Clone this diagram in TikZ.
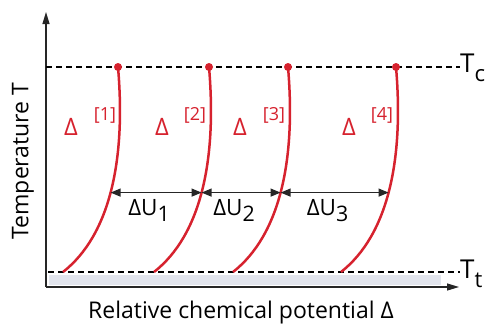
\documentclass[tikz,border=0pt]{standalone}
\usepackage{fontspec}
\setmainfont{Open Sans}
\usetikzlibrary{arrows.meta}
\definecolor{curvered}{RGB}{214,34,46}
\definecolor{bandgray}{RGB}{226,229,237}
\newcommand{\lowsub}[3]{\raisebox{-#1}{\scalebox{#2}{#3}}}

\begin{document}
\begin{tikzpicture}[x=1pt,y=-1pt,
axis/.style={-{Triangle[length=12pt,width=7pt]},line width=1.2pt,draw=black!85},
level/.style={line width=1.4pt,dash pattern=on 6pt off 4pt},
boundary/.style={line width=2.5pt,draw=curvered},
dot/.style={circle,fill=curvered,inner sep=0pt,minimum size=8pt},
gap/.style={{Triangle[length=10pt,width=8pt]}-{Triangle[length=10pt,width=8pt]},line width=1.2pt,draw=black!85},
phaselabel/.style={text=curvered,font=\fontsize{24}{24}\selectfont},
tag/.style={text=curvered,font=\fontsize{18}{18}\selectfont},
gaplabel/.style={font=\fontsize{22.5}{22.5}\selectfont},
levellabel/.style={font=\fontsize{26}{26}\selectfont,anchor=base west,inner sep=0pt},
axislabel/.style={font=\fontsize{23}{23}\selectfont}]
\useasboundingbox (0,0) rectangle (486,327);
% substrate band and axes
\fill[bandgray] (49,275) rectangle (441,285);
\coordinate (origin) at (46,287);
\coordinate (ytip) at (46,12);
\coordinate (xtip) at (459,287);
\draw[axis] (origin) -- (ytip);
\draw[axis] (origin) -- (xtip);
\node[axislabel,rotate=90] (ylab) at (23,161) {Temperature T};
\node[axislabel] (xlab) at (241,313) {Relative chemical potential Δ};
% critical and transition levels
\node[levellabel] (tc) at (460,72) {T\lowsub{9pt}{0.85}{c}};
\node[levellabel] (tt) at (460,278) {T\lowsub{9pt}{0.85}{t}};
\coordinate (tcstart) at (46,67);
\coordinate (ttstart) at (48,272);
\draw[level] (tcstart) -- (tcstart -| tc.west);
\draw[level] (ttstart) -- (ttstart -| tt.west);
% phase boundaries
\foreach \i/\x/\lx/\tx in {1/118/71/105,2/209/162/195,3/288/240/274,4/396/349/382}{
  \node[dot] (top\i) at (\x,67) {};
  \coordinate (bot\i) at (\x-55,272);
  \draw[boundary] (top\i.center) .. controls +(8,93) and +(47,-37) .. (bot\i) coordinate[pos=0.51] (mid\i);
  \node[phaselabel] (phase\i) at (\lx,127) {Δ};
  \node[tag] (tag\i) at (\tx,115) {[\i]};
}
% energy gaps
\foreach \i/\j in {1/2,2/3,3/4}{
  \draw[gap] (mid\i) -- node[gaplabel,below=3pt,xshift=-7pt] (du\i) {ΔU\lowsub{6pt}{0.95}{\i}} (mid\j);
}
\end{tikzpicture}
\end{document}
